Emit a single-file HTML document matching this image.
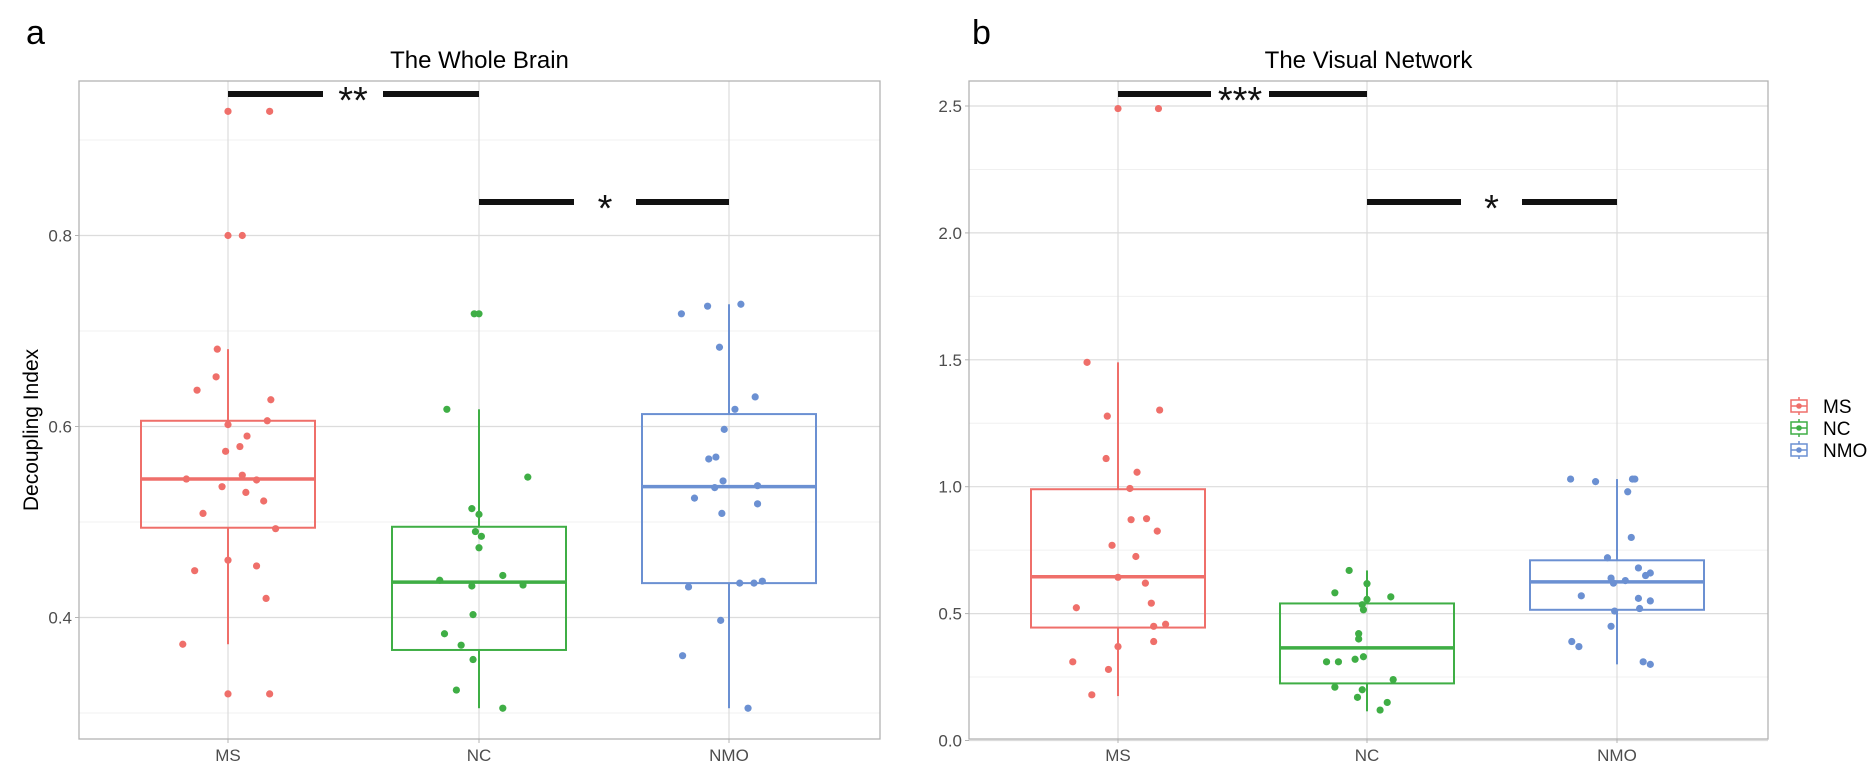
<!DOCTYPE html>
<html><head><meta charset="utf-8"><style>
body{margin:0;background:#fff;}
svg{display:block;font-family:"Liberation Sans",Arial,sans-serif;}
</style></head><body>
<svg id="chart" width="1873" height="778"></svg>
<script>
const categories=["MS","NC","NMO"];
const colors=["#ef6f6a","#3fae45","#6b90d2"];
// Panel a values
const aMS=[0.93,0.93,0.8,0.8,0.681,0.652,0.638,0.628,0.606,0.602,0.59,0.579,0.574,0.549,0.545,0.544,0.537,0.531,0.522,0.509,0.493,0.46,0.454,0.449,0.42,0.372,0.32,0.32];
const aMSj=[0,35,0,12,-9,-10,-26,36,33,0,16,10,-2,12,-35,24,-5,15,30,-21,40,0,24,-28,32,-38,0,35];
const aNC=[0.718,0.718,0.618,0.547,0.514,0.508,0.49,0.485,0.473,0.444,0.439,0.433,0.434,0.403,0.383,0.371,0.356,0.324,0.305];
const aNCj=[-4,0,-27,41,-6,0,-3,2,0,20,-33,-6,37,-5,-29,-15,-5,-19,20];
const aNMO=[0.718,0.726,0.728,0.683,0.631,0.618,0.597,0.566,0.568,0.543,0.536,0.538,0.525,0.519,0.509,0.432,0.436,0.436,0.438,0.397,0.36,0.305];
const aNMOj=[-40,-18,10,-8,22,5,-4,-17,-11,-5,-12,24,-29,24,-6,-34,9,21,28,-7,-39,16];
const aStats=[[0.372,0.494,0.545,0.606,0.681],[0.305,0.366,0.437,0.495,0.618],[0.305,0.436,0.537,0.613,0.728]];
// Panel b values
const bMS=[2.49,2.49,1.49,1.278,1.302,1.111,1.057,0.993,0.87,0.874,0.825,0.769,0.725,0.643,0.62,0.523,0.541,0.45,0.458,0.39,0.37,0.31,0.28,0.18];
const bMSj=[0,34,-26,-9,35,-10,16,10,11,24,33,-5,15,0,23,-35,28,30,40,30,0,-38,-8,-22];
const bNC=[0.67,0.618,0.582,0.566,0.556,0.535,0.515,0.421,0.4,0.32,0.31,0.31,0.33,0.21,0.2,0.17,0.24,0.15,0.12];
const bNCj=[-15,0,-27,20,0,-4,-3,-7,-7,-10,-34,-24,-3,-27,-4,-8,22,17,11];
const bNMO=[1.03,1.02,1.03,1.03,0.98,0.8,0.72,0.68,0.66,0.65,0.64,0.63,0.62,0.57,0.56,0.55,0.52,0.51,0.45,0.39,0.37,0.31,0.3];
const bNMOj=[-39,-18,13,15,9,12,-8,18,28,24,-5,7,-3,-30,18,28,19,-2,-5,-38,-32,22,28];
const bStats=[[0.175,0.445,0.645,0.99,1.49],[0.115,0.225,0.365,0.54,0.67],[0.3,0.515,0.625,0.71,1.03]];
const aTicks=[0.4,0.6,0.8], aMinor=[0.3,0.5,0.7,0.9];
const bTicks=[0,0.5,1,1.5,2,2.5], bMinor=[0.25,0.75,1.25,1.75,2.25];

const NS="http://www.w3.org/2000/svg";
const svg=document.getElementById('chart');
function mk(tag,attrs,parent){const e=document.createElementNS(NS,tag);for(const k in attrs)e.setAttribute(k,attrs[k]);(parent||svg).appendChild(e);return e;}

function panel(cfg){
  const g=mk('g',{});
  
  
  const {L,R,T,B}=cfg;
  const y=cfg.y;
  const x=i=>cfg.cx[i];
  cfg.minor.forEach(v=>{const l=mk('line',{x1:L,x2:R,y1:y(v),y2:y(v),stroke:'#f0f0f0','stroke-width':1},g);
    });
  cfg.ticks.forEach(v=>{const l=mk('line',{x1:L,x2:R,y1:y(v),y2:y(v),stroke:'#dcdcdc','stroke-width':1.2},g);
    
    const t=mk('text',{x:L-7,y:y(v)+6,'text-anchor':'end','font-size':17,fill:'#4d4d4d'},g);
    t.textContent=cfg.fmt(v);
    
    mk('line',{x1:L-4,x2:L,y1:y(v),y2:y(v),stroke:'#b3b3b3'},g);});
  categories.forEach((c,i)=>{const l=mk('line',{x1:x(i),x2:x(i),y1:T,y2:B,stroke:'#dcdcdc','stroke-width':1.2},g);
    
    const t=mk('text',{x:x(i),y:B+22,'text-anchor':'middle','font-size':17,fill:'#4d4d4d'},g);
    t.textContent=c;
    
    mk('line',{x1:x(i),x2:x(i),y1:B,y2:B+4,stroke:'#b3b3b3'},g);});
  const hw=87;
  cfg.stats.forEach((s,i)=>{
    const col=colors[i];
    const bg=mk('g',{},g);
    
    mk('line',{x1:x(i),x2:x(i),y1:y(s[0]),y2:y(s[1]),stroke:col,'stroke-width':2},bg);
    mk('line',{x1:x(i),x2:x(i),y1:y(s[3]),y2:y(s[4]),stroke:col,'stroke-width':2},bg);
    mk('rect',{x:x(i)-hw,y:y(s[3]),width:2*hw,height:y(s[1])-y(s[3]),fill:'none',stroke:col,'stroke-width':2},bg);
    mk('line',{x1:x(i)-hw,x2:x(i)+hw,y1:y(s[2]),y2:y(s[2]),stroke:col,'stroke-width':3.5},bg);
  });
  cfg.pts.forEach((arr,i)=>{arr[0].forEach((v,k)=>{
    const c=mk('circle',{cx:x(i)+arr[1][k]*1.19,cy:y(v),r:3.6,fill:colors[i]},g);
    
    });});
  const br=mk('rect',{x:L,y:T,width:R-L,height:B-T,fill:'none',stroke:'#b3b3b3','stroke-width':1.3},g);
  
  const tt=mk('text',{x:(L+R)/2,y:68,'text-anchor':'middle','font-size':24,fill:'#000'},g);
  tt.textContent=cfg.title;
  
  const lt=mk('text',{x:cfg.letterX,y:44,'font-size':34,fill:'#000'},g);
  lt.textContent=cfg.letter;
  
  cfg.sig.forEach(s=>{
    const sg=mk('g',{},g);
    
    mk('rect',{x:s[0],y:s[4]-3,width:s[1]-s[0],height:6,fill:'#111'},sg);
    mk('rect',{x:s[2],y:s[4]-3,width:s[3]-s[2],height:6,fill:'#111'},sg);
    const t=mk('text',{x:(s[1]+s[2])/2,y:s[4]+19,'text-anchor':'middle','font-size':38,fill:'#111'},sg);
    t.textContent=s[5];
  });
}
panel({name:'panel-a-whole-brain',L:79,R:880,T:81,B:739,cx:[228,479,729],
  y:v=>617.5-(v-0.4)*955,ticks:aTicks,minor:aMinor,fmt:v=>v.toFixed(1),stats:aStats,
  pts:[[aMS,aMSj],[aNC,aNCj],[aNMO,aNMOj]],title:'The Whole Brain',letter:'a',letterX:26,
  sig:[[228,323,383,479,94,'**'],[479,574,636,729,202,'*']]});
panel({name:'panel-b-visual-network',L:969,R:1768,T:81,B:739,cx:[1118,1367,1617],
  y:v=>740.5-v*253.8,ticks:bTicks,minor:bMinor,fmt:v=>v.toFixed(1),stats:bStats,
  pts:[[bMS,bMSj],[bNC,bNCj],[bNMO,bNMOj]],title:'The Visual Network',letter:'b',letterX:972,
  sig:[[1118,1211,1269,1367,94,'***'],[1367,1461,1522,1617,202,'*']]});
const yt=mk('text',{x:0,y:0,'text-anchor':'middle','font-size':21,fill:'#000',transform:'translate(38,430) rotate(-90)'});
yt.textContent='Decoupling Index';

const lg=mk('g',{});

categories.forEach((c,i)=>{
  const yy=406+i*22;
  const e=mk('g',{},lg);
  
  mk('line',{x1:1799,x2:1799,y1:yy-9,y2:yy+9,stroke:colors[i],'stroke-width':1.5},e);
  mk('rect',{x:1791,y:yy-6,width:16,height:12,fill:'#fff',stroke:colors[i],'stroke-width':1.5},e);
  mk('line',{x1:1791,x2:1807,y1:yy,y2:yy,stroke:colors[i],'stroke-width':1.5},e);
  mk('circle',{cx:1799,cy:yy,r:2.8,fill:colors[i]},e);
  const t=mk('text',{x:1823,y:yy+7,'font-size':19,fill:'#000'},e);
  t.textContent=c;
});
</script>
</body></html>
